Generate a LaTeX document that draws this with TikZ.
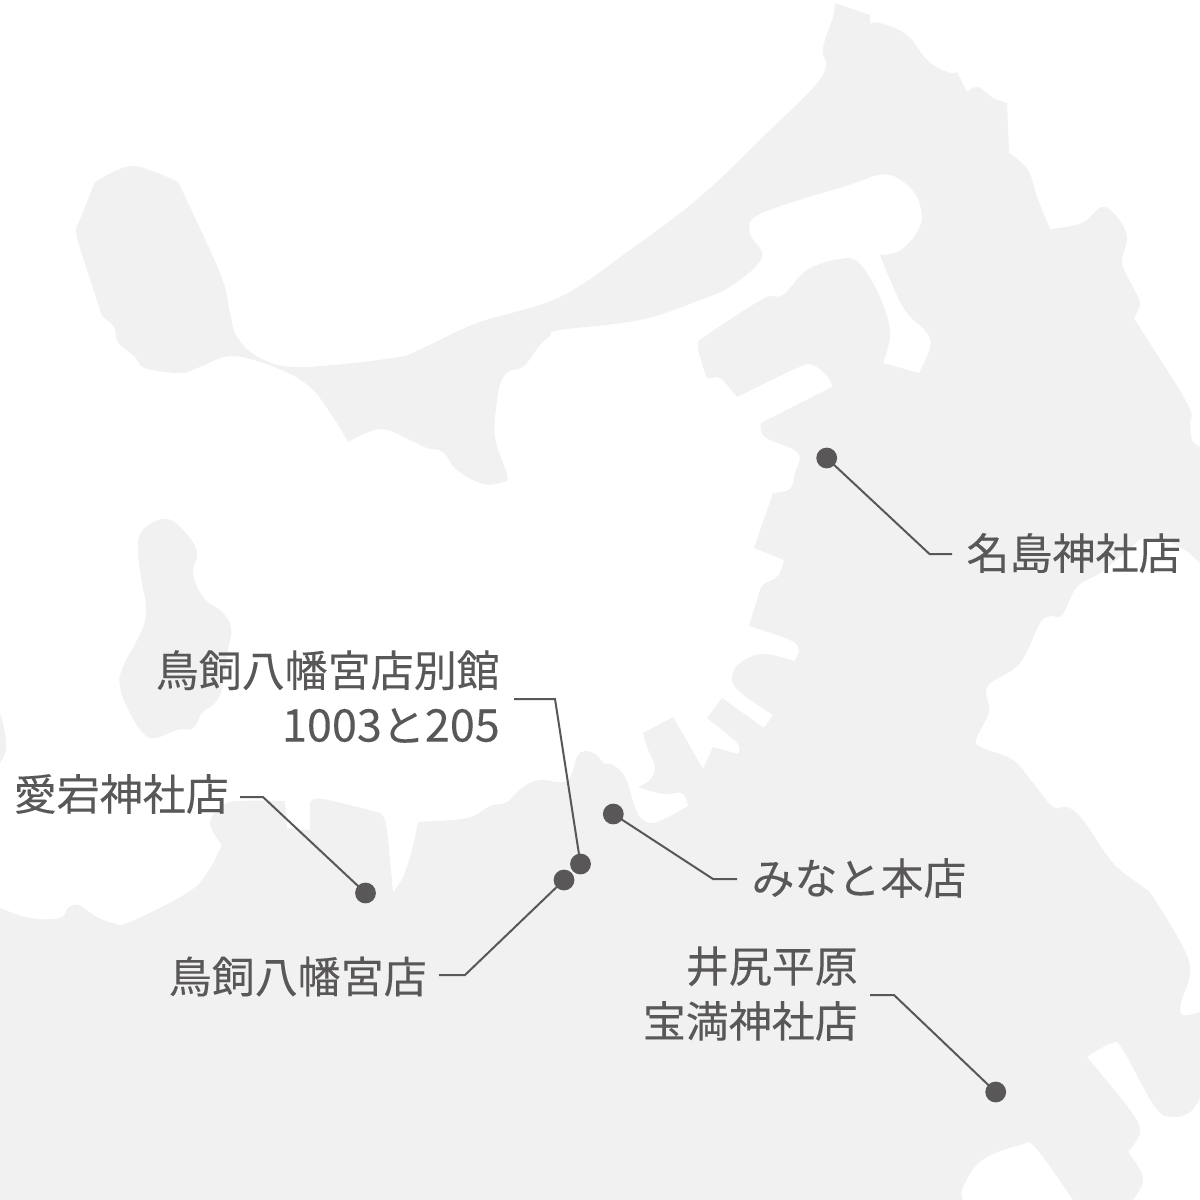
\documentclass[tikz,border=0pt]{standalone}
\usepackage{fontspec}
\setmainfont{Noto Sans CJK JP}
\definecolor{landgray}{HTML}{F1F1F1}
\definecolor{inkgray}{HTML}{595757}
\newcommand{\bigdigits}[1]{{\fontsize{45}{55}\selectfont\addfontfeatures{FakeBold=0.12}#1}}
\tikzset{
  land/.style={fill=landgray,draw=none},
  seg/.style={smooth,tension=0.62},
  dot/.style={circle,fill=inkgray,draw=none,minimum size=20.8pt,inner sep=0pt},
  leader/.style={draw=inkgray,line width=2pt,line join=miter},
  lbl/.style={text=inkgray,inner sep=0pt,font=\fontsize{43}{55}\selectfont\addfontfeatures{FakeBold=0.14}}
}
\begin{document}
\begin{tikzpicture}[x=1pt,y=-1pt]
\useasboundingbox (0,0) rectangle (1200,1200);
\fill[white] (0,0) rectangle (1200,1200);
\begin{scope}
\clip (0,0) rectangle (1200,1200);
% main land
\fill[land]
 plot[seg] coordinates {(835,3) (833,17) (825,40) (823,53) (826,67) (813,88) (767,133) (700,197) (630,250) (560,297) (477,323) (423,348) (393,358) (300,367) (260,358) (237,337) (230,313) (220,273) (178,182)}
 -- plot[seg] coordinates {(178,182) (155,172) (133,166) (115,171) (95,182)}
 -- (79,222)
 -- plot[seg] coordinates {(79,222) (76,230) (78,242)}
 -- (102,316)
 -- plot[seg] coordinates {(102,316) (114,327) (118,342) (135,357) (145,368) (180,373) (200,367) (232,356) (277,368) (310,387) (333,417) (348,442)}
 -- plot[seg] coordinates {(348,442) (380,429) (410,440) (427,448) (443,452) (457,470) (483,484) (503,482) (507,475) (495,437) (497,400) (501,382) (508,372) (518,369) (526,364) (540,345) (550,336) (560,330) (640,320) (700,300) (733,285) (762,257) (750,233) (762,213) (855,183) (873,176) (890,175) (905,183) (917,197) (922,217) (917,232) (907,245) (895,253) (880,255)}
 -- plot[seg] coordinates {(880,255) (903,307) (927,333) (930,348) (919,373)}
 -- (883,363)
 -- plot[seg] coordinates {(883,363) (890,333) (880,297) (859,263) (840,259) (807,270) (783,295) (763,299) (707,335) (698,345) (702,363) (708,378) (720,378) (737,397)}
 -- plot[seg] coordinates {(737,397) (797,368) (813,365) (828,377) (832,387)}
 -- (761,423)
 -- plot[seg] coordinates {(761,423) (765,437) (798,453) (795,473) (790,489) (773,493)}
 -- (754,548) -- (784,560)
 -- plot[seg] coordinates {(784,560) (778,576) (763,585) (757,600) (749,626)}
 -- plot[seg] coordinates {(749,626) (790,640) (799,650) (794,661)}
 -- plot[seg] coordinates {(794,661) (763,654) (740,663) (732,678) (740,692) (773,715)}
 -- (764,728) -- (722,698) -- (707,718)
 -- plot[seg] coordinates {(707,718) (737,743) (738,754)}
 -- (713,747) -- (703,769) -- (673,717) -- (643,733)
 -- plot[seg] coordinates {(643,733) (647,747) (655,767) (650,780) (638,787)}
 -- plot[seg] coordinates {(638,787) (663,794) (682,793) (688,806)}
 -- plot[seg] coordinates {(688,806) (657,822) (643,820) (635,807) (625,777) (613,765) (603,763) (597,755) (585,751) (577,757) (567,781) (540,780) (523,787) (507,802) (490,806) (467,818) (418,822)}
 -- plot[seg] coordinates {(418,822) (412,850) (403,877) (393,892)}
 -- plot[seg] coordinates {(393,892) (388,840) (385,820) (380,813)}
 -- plot[seg] coordinates {(380,813) (323,799) (310,803)}
 -- (310,830) -- (287,828) -- (285,801)
 -- plot[seg] coordinates {(285,801) (240,801) (223,805) (210,823) (222,845)}
 -- plot[seg] coordinates {(222,845) (207,873) (187,893) (130,922) (113,923) (97,917) (78,905) (68,908) (60,918) (30,918) (0,908)}
 -- (0,1200) -- (963,1200)
 -- plot[seg] coordinates {(963,1200) (963,1187) (982,1160) (1020,1145) (1035,1147) (1073,1200)}
 -- (1133,1200)
 -- plot[seg] coordinates {(1133,1200) (1143,1178) (1128,1152)}
 -- plot[seg] coordinates {(1128,1152) (1140,1132) (1130,1110) (1087,1057)}
 -- plot[seg] coordinates {(1087,1057) (1112,1043) (1123,1050) (1155,1107) (1173,1117) (1190,1112) (1200,1098)}
 -- (1200,1012)
 -- plot[seg] coordinates {(1200,1012) (1183,1015) (1181,1003) (1190,973) (1183,947) (1153,897) (1143,887) (1113,863) (1083,820) (1067,807) (1053,807) (1033,783) (1013,760) (983,748) (976,740) (989,712) (986,693) (992,682) (1020,663) (1040,623) (1050,616) (1062,615) (1077,587) (1100,573) (1125,553) (1147,537) (1180,547) (1200,563)}
 -- (1200,447)
 -- plot[seg] coordinates {(1200,447) (1192,440) (1190,423) (1187,403) (1137,323) (1135,317) (1140,303) (1133,287) (1122,263) (1127,237) (1117,217) (1102,207) (1082,223) (1050,229)}
 -- plot[seg] coordinates {(1050,229) (1037,197) (1028,170) (1009,153)}
 -- (1007,103)
 -- plot[seg] coordinates {(1007,103) (993,98) (978,87) (967,92)}
 -- (957,72)
 -- plot[seg] coordinates {(957,72) (947,72) (927,60) (907,35) (880,23) (870,24)}
 -- (870,15) -- cycle;
% island
\fill[land] plot[smooth cycle,tension=0.7] coordinates {(165,519) (143,530) (138,550) (142,583) (146,607) (142,630) (123,667) (120,687) (130,713) (143,733) (155,738) (177,730) (193,728) (202,713) (220,695) (228,650) (231,628) (222,612) (203,597) (193,573) (197,552) (183,530)};
% left sliver
\fill[land] plot[smooth,tension=0.6] coordinates {(0,713) (5,733) (6,750) (0,763)} -- cycle;
\end{scope}
% dots
\node[dot] (dA) at (826.7,458) {};
\node[dot] (dB) at (580.5,864) {};
\node[dot] (dC) at (365.5,893) {};
\node[dot] (dD) at (564,880) {};
\node[dot] (dE) at (613.3,814) {};
\node[dot] (dF) at (995.7,1092) {};
% labels
\node[lbl,anchor=center] (tA) at (1074,553) {名島神社店};
\node[lbl,anchor=east,align=right] (tB) at (500,696.5) {鳥飼八幡宮店別館\\\bigdigits{1003}と\bigdigits{205}};
\node[lbl,anchor=east] (tC) at (229,794) {愛宕神社店};
\node[lbl,anchor=east] (tD) at (427,976.5) {鳥飼八幡宮店};
\node[lbl,anchor=center] (tE) at (859,878) {みなと本店};
\node[lbl,anchor=east,align=right] (tF) at (858,993.5) {井尻平原\\宝満神社店};
% connector elbows and free ends
\coordinate (eA) at (929.5,554); \coordinate (fA) at (952,554);
\coordinate (eB) at (555,699); \coordinate (fB) at (514,699);
\coordinate (eC) at (263,797); \coordinate (fC) at (240,797);
\coordinate (eD) at (465,975); \coordinate (fD) at (439,975);
\coordinate (eE) at (713,879); \coordinate (fE) at (737,879);
\coordinate (eF) at (894,995); \coordinate (fF) at (870,995);
\draw[leader] (dA.center) -- (eA) -- (fA);
\draw[leader] (dB.center) -- (eB) -- (fB);
\draw[leader] (dC.center) -- (eC) -- (fC);
\draw[leader] (dD.center) -- (eD) -- (fD);
\draw[leader] (dE.center) -- (eE) -- (fE);
\draw[leader] (dF.center) -- (eF) -- (fF);
\end{tikzpicture}
\end{document}
